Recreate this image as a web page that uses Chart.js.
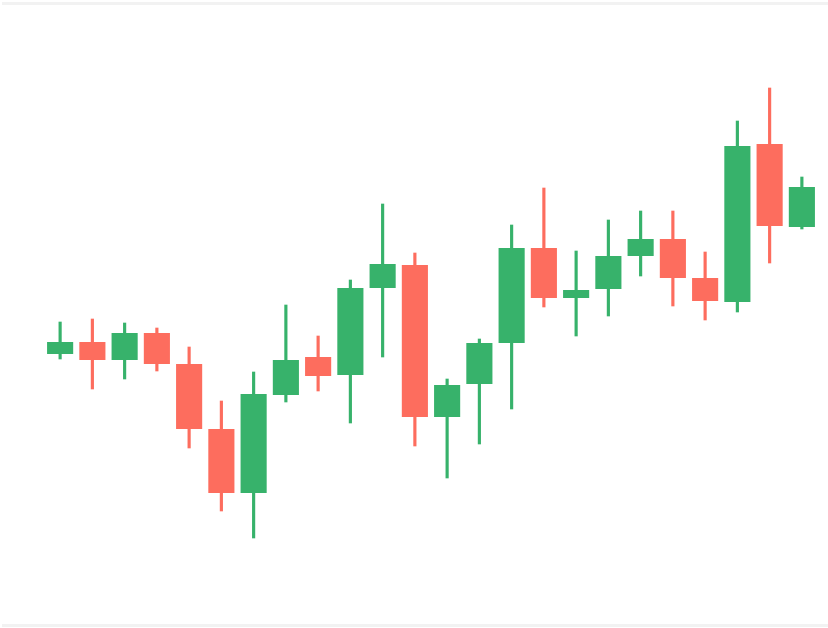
<!DOCTYPE html>
<html>
<head>
<meta charset="utf-8">
<script src="https://cdn.jsdelivr.net/npm/chart.js@4"></script>
<style>
  html, body { margin: 0; padding: 0; background: #ffffff; }
  #wrap { position: relative; width: 828px; height: 628px; overflow: hidden; }
  canvas { position: absolute; left: 0; top: 0; }
  .rule { position: absolute; left: 2px; width: 826px; height: 3px; background: #f2f2f2; }
</style>
</head>
<body>
<div id="wrap">
  <div class="rule" style="top:2px"></div>
  <div class="rule" style="top:624px"></div>
  <canvas id="c" width="828" height="628"></canvas>
</div>
<script>
const labels = ["D1","D2","D3","D4","D5","D6","D7","D8","D9","D10","D11","D12",
                "D13","D14","D15","D16","D17","D18","D19","D20","D21","D22","D23","D24"];
const opens  = [246, 258, 240, 267, 236, 171, 107, 205, 243, 225, 312, 335, 183, 216, 257, 352, 302, 311, 344, 361, 322, 298, 456, 373];
const highs  = [278, 281, 277, 272, 253, 199, 228, 295, 264, 320, 396, 347, 221, 261, 375, 412, 349, 380, 389, 389, 348, 479, 512, 423];
const lows   = [241, 211, 221, 229, 152,  89,  62, 198, 209, 177, 243, 154, 122, 156, 191, 293, 264, 284, 324, 294, 280, 288, 337, 371];
const closes = [258, 240, 267, 236, 171, 107, 206, 240, 224, 312, 336, 183, 215, 257, 352, 302, 310, 344, 361, 322, 299, 454, 374, 413];

const UP = '#37b26b';
const DOWN = '#fd6d5e';
const colors = opens.map((o, i) => closes[i] >= o ? UP : DOWN);

new Chart(document.getElementById('c'), {
  type: 'bar',
  data: {
    labels: labels,
    datasets: [
      {
        label: 'body',
        data: opens.map((o, i) => [o, closes[i]]),
        backgroundColor: colors,
        borderColor: colors,
        borderWidth: 0,
        borderSkipped: false,
        barPercentage: 1,
        categoryPercentage: 0.81,
        grouped: false,
        order: 1
      },
      {
        label: 'wick',
        data: lows.map((l, i) => [l, highs[i]]),
        backgroundColor: colors,
        borderWidth: 0,
        borderSkipped: false,
        barThickness: 2.5,
        grouped: false,
        order: 2
      }
    ]
  },
  options: {
    responsive: false,
    animation: false,
    devicePixelRatio: 1,
    layout: { padding: { left: 44, right: 10, top: 50, bottom: 50 } },
    plugins: { legend: { display: false }, tooltip: { enabled: false } },
    scales: {
      x: { display: false, offset: true },
      y: { display: false, min: 22, max: 550 }
    }
  }
});
</script>
</body>
</html>
